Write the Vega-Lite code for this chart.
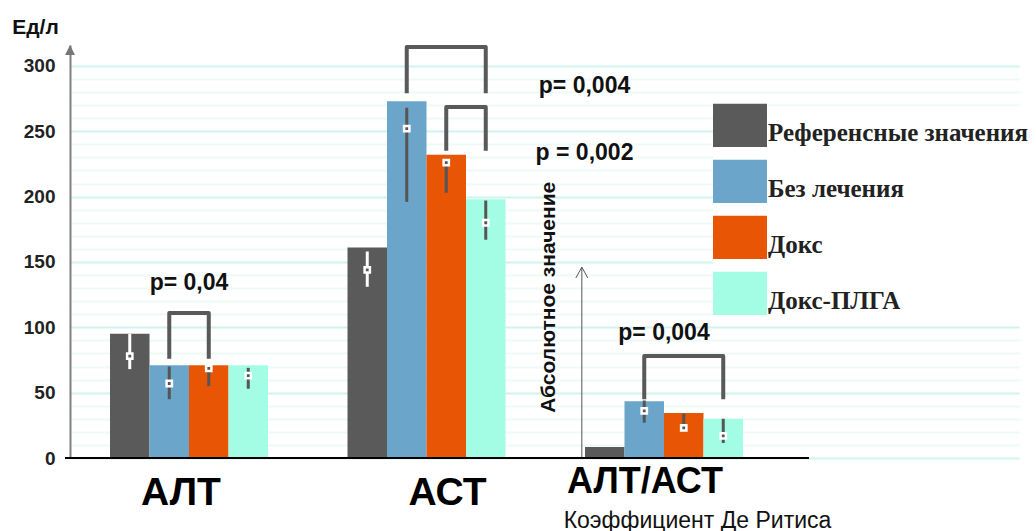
{
  "$schema": "https://vega.github.io/schema/vega-lite/v6.json",
  "width": 949,
  "height": 413,
  "autosize": "none",
  "padding": {"left": 70, "top": 45, "right": 17, "bottom": 73},
  "background": "white",
  "config": {
    "view": {"stroke": null},
    "font": "Liberation Sans",
    "axisY": {
      "values": [0, 10, 20, 30, 40, 50, 60, 70, 80, 90, 100, 110, 120, 130, 140, 150, 160, 170, 180, 190, 200, 210, 220, 230, 240, 250, 260, 270, 280, 290, 300],
      "tickCount": 40,
      "labelExpr": "datum.value % 50 === 0 ? datum.label : ''",
      "labelOverlap": false,
      "grid": true,
      "gridColor": {"condition": {"test": "datum.value % 50 === 0", "value": "#d0f4ed"}, "value": "#edfaf7"},
      "gridWidth": 2,
      "ticks": false, "tickSize": 0,
      "domainColor": "#808080", "domainWidth": 2,
      "labelFont": "Liberation Sans", "labelFontWeight": "bold", "labelFontSize": 19, "labelColor": "#222", "labelPadding": 15,
      "titleAngle": 0, "titleX": -35, "titleY": -18, "titleFont": "Liberation Sans", "titleFontSize": 21,
      "titleFontWeight": "bold", "titleAlign": "center", "titleBaseline": "middle", "titleColor": "#111"
    }
  },
  "datasets": {
    "bars": [
      {"group": "АЛТ", "series": "Референсные значения", "value": 95, "low": 68, "high": 95, "mid": 78},
      {"group": "АЛТ", "series": "Без лечения", "value": 71, "low": 45, "high": 70, "mid": 57},
      {"group": "АЛТ", "series": "Докс", "value": 71, "low": 55, "high": 70, "mid": 68.5},
      {"group": "АЛТ", "series": "Докс-ПЛГА", "value": 71, "low": 53, "high": 69, "mid": 63},
      {"group": "АСТ", "series": "Референсные значения", "value": 161, "low": 131, "high": 158, "mid": 144},
      {"group": "АСТ", "series": "Без лечения", "value": 273, "low": 196, "high": 268, "mid": 252},
      {"group": "АСТ", "series": "Докс", "value": 232, "low": 203, "high": 227, "mid": 226},
      {"group": "АСТ", "series": "Докс-ПЛГА", "value": 198, "low": 167, "high": 197, "mid": 180},
      {"group": "АЛТ/АСТ", "series": "Референсные значения", "value": 8.4, "low": null, "high": null, "mid": null},
      {"group": "АЛТ/АСТ", "series": "Без лечения", "value": 43.5, "low": 27, "high": 44, "mid": 36},
      {"group": "АЛТ/АСТ", "series": "Докс", "value": 34.5, "low": 23, "high": 34, "mid": 23},
      {"group": "АЛТ/АСТ", "series": "Докс-ПЛГА", "value": 30, "low": 11.5, "high": 30, "mid": 17}
    ],
    "brackets": [
      {"bracket": "b1", "ord": 1, "group": "АЛТ", "series": "Без лечения", "y": 76},
      {"bracket": "b1", "ord": 2, "group": "АЛТ", "series": "Без лечения", "y": 111},
      {"bracket": "b1", "ord": 3, "group": "АЛТ", "series": "Докс", "y": 111},
      {"bracket": "b1", "ord": 4, "group": "АЛТ", "series": "Докс", "y": 76},
      {"bracket": "b2", "ord": 1, "group": "АСТ", "series": "Без лечения", "y": 279},
      {"bracket": "b2", "ord": 2, "group": "АСТ", "series": "Без лечения", "y": 314.5},
      {"bracket": "b2", "ord": 3, "group": "АСТ", "series": "Докс-ПЛГА", "y": 314.5},
      {"bracket": "b2", "ord": 4, "group": "АСТ", "series": "Докс-ПЛГА", "y": 279},
      {"bracket": "b3", "ord": 1, "group": "АСТ", "series": "Докс", "y": 235},
      {"bracket": "b3", "ord": 2, "group": "АСТ", "series": "Докс", "y": 268.5},
      {"bracket": "b3", "ord": 3, "group": "АСТ", "series": "Докс-ПЛГА", "y": 268.5},
      {"bracket": "b3", "ord": 4, "group": "АСТ", "series": "Докс-ПЛГА", "y": 235},
      {"bracket": "b4", "ord": 1, "group": "АЛТ/АСТ", "series": "Без лечения", "y": 45},
      {"bracket": "b4", "ord": 2, "group": "АЛТ/АСТ", "series": "Без лечения", "y": 78},
      {"bracket": "b4", "ord": 3, "group": "АЛТ/АСТ", "series": "Докс-ПЛГА", "y": 78},
      {"bracket": "b4", "ord": 4, "group": "АЛТ/АСТ", "series": "Докс-ПЛГА", "y": 45}
    ],
    "ptextA": [
      {"group": "АЛТ", "label": "p= 0,04", "y": 134},
      {"group": "АЛТ/АСТ", "label": "p= 0,004", "y": 96}
    ],
    "ptextB": [
      {"group": "АСТ", "label": "p= 0,004", "y": 285},
      {"group": "АСТ", "label": "p = 0,002", "y": 233}
    ]
  },
  "layer": [
    {
      "data": {"name": "bars"},
      "mark": {"type": "bar"},
      "encoding": {
        "x": {
          "field": "group", "type": "nominal",
          "scale": {"type": "band", "domain": ["АЛТ", "АСТ", "АЛТ/АСТ"], "paddingInner": 0.3347, "paddingOuter": 0.6653, "align": 0.1266, "round": false},
          "axis": {
            "domain": false, "ticks": false, "grid": false,
            "labelFont": "Liberation Sans", "labelFontWeight": "bold", "labelColor": "#000", "labelAngle": 0,
            "labelBaseline": "top", "labelLimit": 0, "labelOverlap": false,
            "labelFontSize": {"condition": {"test": "datum.value === 'АЛТ/АСТ'", "value": 36}, "value": 39},
            "labelPadding": {"condition": {"test": "datum.value === 'АЛТ/АСТ'", "value": 6}, "value": 15},
            "labelOffset": {"condition": [{"test": "datum.value === 'АЛТ'", "value": -8}, {"test": "datum.value === 'АСТ'", "value": 21}], "value": -19},
            "title": "Коэффициент Де Ритиса", "titleX": 627, "titleY": 62, "titleFont": "Liberation Sans",
            "titleFontSize": 23, "titleFontWeight": "normal", "titleAlign": "center", "titleBaseline": "middle", "titleColor": "#111"
          }
        },
        "xOffset": {"field": "series", "type": "nominal", "scale": {"domain": ["Референсные значения", "Без лечения", "Докс", "Докс-ПЛГА"], "paddingInner": 0, "paddingOuter": 0}},
        "y": {
          "field": "value", "type": "quantitative",
          "scale": {"domain": [0, 316], "nice": false},
          "axis": {
            "values": [0, 10, 20, 30, 40, 50, 60, 70, 80, 90, 100, 110, 120, 130, 140, 150, 160, 170, 180, 190, 200, 210, 220, 230, 240, 250, 260, 270, 280, 290, 300],
            "tickCount": 40,
            "title": "Ед/л"
          }
        },
        "color": {
          "field": "series", "type": "nominal",
          "scale": {"domain": ["Референсные значения", "Без лечения", "Докс", "Докс-ПЛГА"], "range": ["#5a5a5a", "#6ba5c9", "#e85504", "#a3fce4"]},
          "legend": {
            "orient": "none", "legendX": 643, "legendY": 61, "title": null,
            "symbolType": "M-1,-1.08H1V0.52H-1Z", "symbolSize": 2916, "symbolStrokeWidth": 0, "symbolOpacity": 1,
            "labelFont": "Liberation Serif", "labelFontWeight": "bold", "labelFontSize": 25, "labelColor": "#222",
            "labelOffset": 1, "rowPadding": 11, "padding": 0, "fillColor": "white", "labelLimit": 400
          }
        }
      }
    },
    {
      "data": {"name": "bars"},
      "mark": {"type": "rule", "strokeWidth": 3},
      "encoding": {
        "x": {"field": "group", "type": "nominal"},
        "xOffset": {"field": "series", "type": "nominal"},
        "y": {"field": "low", "type": "quantitative"},
        "y2": {"field": "high"},
        "color": {"condition": {"test": "datum.series === 'Референсные значения'", "value": "white"}, "value": "#555555"}
      }
    },
    {
      "data": {"name": "bars"},
      "mark": {"type": "square", "size": 28, "fill": "#555555", "stroke": "white", "strokeWidth": 2.5, "opacity": 1, "filled": true},
      "encoding": {
        "x": {"field": "group", "type": "nominal"},
        "xOffset": {"field": "series", "type": "nominal"},
        "y": {"field": "mid", "type": "quantitative"}
      }
    },
    {
      "data": {"name": "brackets"},
      "mark": {"type": "line", "color": "#595959", "strokeWidth": 4, "strokeJoin": "round"},
      "encoding": {
        "x": {"field": "group", "type": "nominal"},
        "xOffset": {"field": "series", "type": "nominal"},
        "y": {"field": "y", "type": "quantitative"},
        "detail": {"field": "bracket"},
        "order": {"field": "ord", "type": "quantitative"}
      }
    },
    {
      "data": {"name": "ptextA"},
      "mark": {"type": "text", "font": "Liberation Sans", "fontWeight": "bold", "fontSize": 23, "color": "#111", "align": "center", "baseline": "middle"},
      "encoding": {
        "x": {"field": "group", "type": "nominal"},
        "y": {"field": "y", "type": "quantitative"},
        "text": {"field": "label"}
      }
    },
    {
      "data": {"name": "ptextB"},
      "mark": {"type": "text", "font": "Liberation Sans", "fontWeight": "bold", "fontSize": 23, "color": "#111", "align": "center", "baseline": "middle"},
      "encoding": {
        "x": {"field": "group", "type": "nominal", "bandPosition": 1.5},
        "y": {"field": "y", "type": "quantitative"},
        "text": {"field": "label"}
      }
    },
    {
      "data": {"values": [{"label": "Абсолютное значение"}]},
      "layer": [
        {
          "mark": {"type": "rule", "color": "#555555", "strokeWidth": 1},
          "encoding": {
            "x": {"datum": "АЛТ/АСТ", "bandPosition": -0.02},
            "y": {"datum": 0},
            "y2": {"datum": 146}
          }
        },
        {
          "mark": {"type": "point", "shape": "M-1,1.8L0,0L1,1.8", "size": 144, "filled": false, "stroke": "#555555", "strokeWidth": 1, "opacity": 1},
          "encoding": {
            "x": {"datum": "АЛТ/АСТ", "bandPosition": -0.02},
            "y": {"datum": 146}
          }
        },
        {
          "mark": {"type": "text", "angle": 270, "font": "Liberation Sans", "fontWeight": "bold", "fontSize": 21, "align": "center", "baseline": "alphabetic", "dy": -27, "color": "#111"},
          "encoding": {
            "x": {"datum": "АЛТ/АСТ", "bandPosition": -0.02},
            "y": {"datum": 123},
            "text": {"field": "label"}
          }
        },
        {
          "mark": {"type": "rule", "color": "#000000", "strokeWidth": 2},
          "encoding": {
            "x": {"datum": "АЛТ", "bandPosition": -0.285},
            "x2": {"datum": "АЛТ/АСТ", "bandPosition": 1.418},
            "y": {"datum": 0}
          }
        },
        {
          "mark": {"type": "point", "shape": "M-1,2L0,0L1,2Z", "size": 100, "filled": true, "color": "#777777", "opacity": 1},
          "encoding": {
            "x": {"datum": "АЛТ", "bandPosition": -0.253},
            "y": {"datum": 316}
          }
        }
      ]
    }
  ]
}
